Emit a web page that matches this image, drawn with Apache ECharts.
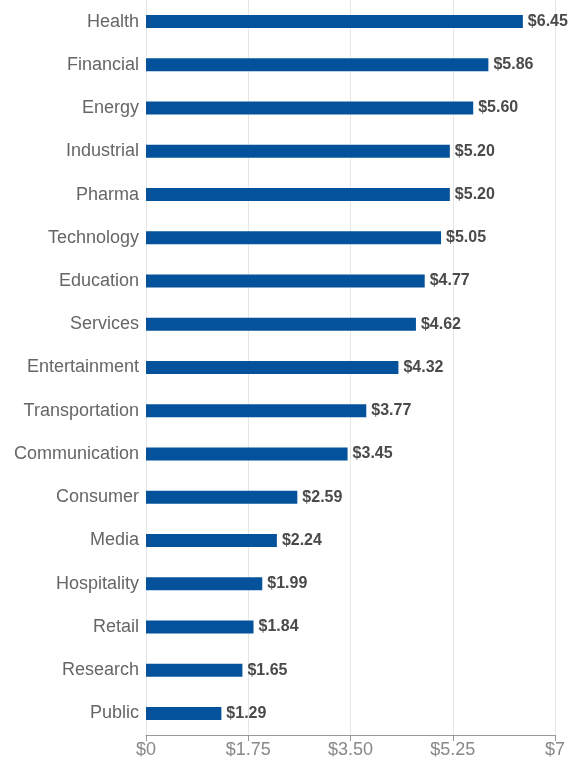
<!DOCTYPE html>
<html><head><meta charset="utf-8">
<script src="https://cdn.jsdelivr.net/npm/echarts@6/dist/echarts.min.js"></script>
<style>html,body{margin:0;padding:0;background:#fff}#c{width:571px;height:762px}</style>
</head><body><div id="c"></div>
<script>
const categories = ["Health","Financial","Energy","Industrial","Pharma","Technology","Education","Services","Entertainment","Transportation","Communication","Consumer","Media","Hospitality","Retail","Research","Public"];
const values = [6.45,5.86,5.60,5.20,5.20,5.05,4.77,4.62,4.32,3.77,3.45,2.59,2.24,1.99,1.84,1.65,1.29];
const xTickLabels = {0:'$0',1.75:'$1.75',3.5:'$3.50',5.25:'$5.25',7:'$7'};
const chart = echarts.init(document.getElementById('c'));
chart.setOption({
  animation:false,
  grid:{left:146,right:16,top:0,bottom:27,containLabel:false},
  xAxis:{type:'value',min:0,max:7,interval:1.75,
    axisLine:{show:true,lineStyle:{color:'#999',width:1}},
    axisTick:{show:true,length:6,lineStyle:{color:'#999'}},
    splitLine:{show:true,lineStyle:{color:'#e6e6e6'}},
    axisLabel:{color:'#888',fontSize:18,fontFamily:'Liberation Sans',margin:6,
      formatter:v=>xTickLabels[v] ?? ('$'+v)}
  },
  yAxis:{type:'category',inverse:true,data:categories,
    axisLine:{show:true,lineStyle:{color:'#e6e6e6'}},axisTick:{show:false},
    axisLabel:{color:'#666',fontSize:18,fontFamily:'Liberation Sans',margin:7}
  },
  series:[{type:'bar',data:values,barWidth:13,itemStyle:{color:'#03529b'},
    label:{show:true,position:'right',distance:5,color:'#4a4a4a',fontSize:16,fontWeight:'bold',fontFamily:'Liberation Sans',
      formatter:p=>'$'+p.value.toFixed(2)}}]
});
</script></body></html>
